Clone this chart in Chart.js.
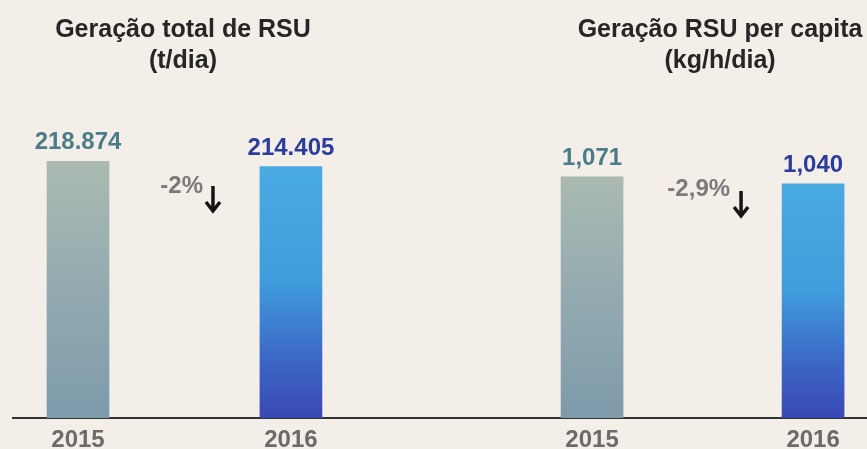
<!DOCTYPE html>
<html lang="pt">
<head>
<meta charset="utf-8">
<script src="https://cdn.jsdelivr.net/npm/chart.js@4.4.1/dist/chart.umd.min.js"></script>
<style>
  html, body { margin: 0; padding: 0; background: #f4eee8; }
  #quadro { position: relative; width: 867px; height: 449px; overflow: hidden; background: #f4eee8; }
  #quadro canvas { position: absolute; top: 0; }
</style>
</head>
<body>
<div id="quadro">
  <canvas id="grafica-total" width="428" height="449" style="left:12px"></canvas>
  <canvas id="grafica-percapita" width="427" height="449" style="left:440px"></canvas>
</div>
<script>
(function () {

    // dados
    const anos = [2015, 2016];
    const totalRSU = [218874, 214405];          // t/dia
    const perCapitaRSU = [1.071, 1.040];        // kg/h/dia
    const rotulosTotal = ['218.874', '214.405'];
    const rotulosPerCapita = ['1,071', '1,040'];
    const variacaoTotal = '-2%';
    const variacaoPerCapita = '-2,9%';
    const tituloTotal = ['Geração total de RSU', '(t/dia)'];
    const tituloPerCapita = ['Geração RSU per capita', '(kg/h/dia)'];

    const fonte = '"Liberation Sans", Arial, Helvetica, sans-serif';
    const coresRotulo = ['#4a7d88', '#2b3c9c'];
    const coresCinza = [[0, '#aabab1'], [0.5, '#93aab0'], [1, '#7e9aab']];
    const coresAzul = [[0, '#4aaae2'], [0.45, '#409ddd'], [0.8, '#3b62c3'], [1, '#3a48b4']];

    function gradiente(c) {
        const chart = c.chart;
        const area = chart.chartArea;
        const cores = c.dataIndex === 0 ? coresCinza : coresAzul;
        if (!area || !c.parsed) return cores[0][1];
        const topo = chart.scales.y.getPixelForValue(c.parsed.y);
        const g = chart.ctx.createLinearGradient(0, topo, 0, area.bottom);
        cores.forEach(([p, cor]) => g.addColorStop(p, cor));
        return g;
    }

    // titulos, valores e variacao
    const rotulos = {
        id: 'rotulos',
        afterDatasetsDraw(chart, args, op) {
            const ctx = chart.ctx;
            const x = chart.scales.x;
            const meio = x.getPixelForValue(2015.5);
            ctx.save();

            ctx.fillStyle = '#262626';
            ctx.textAlign = 'center';
            ctx.textBaseline = 'alphabetic';
            ctx.font = 'bold 25px ' + fonte;
            ctx.fillText(op.titulo[0], meio + op.deslocTitulo, 37);
            ctx.fillText(op.titulo[1], meio + op.deslocTitulo, 68);

            ctx.font = 'bold 24px ' + fonte;
            chart.getDatasetMeta(0).data.forEach((barra, i) => {
                ctx.fillStyle = coresRotulo[i];
                ctx.fillText(op.valores[i], barra.x, barra.y - 12);
            });

            ctx.font = 'bold 24px ' + fonte;
            ctx.fillStyle = '#7a7a7a';
            ctx.textAlign = 'right';
            ctx.fillText(op.variacao, meio + op.deslocTexto, op.yTexto);

            const xs = meio + op.deslocSeta;
            ctx.strokeStyle = '#141414';
            ctx.lineWidth = 3.5;
            ctx.lineCap = 'butt';
            ctx.beginPath();
            ctx.moveTo(xs, op.ySeta);
            ctx.lineTo(xs, op.ySeta + 25);
            ctx.stroke();
            ctx.beginPath();
            ctx.moveTo(xs - 7, op.ySeta + 16);
            ctx.lineTo(xs, op.ySeta + 25);
            ctx.lineTo(xs + 7, op.ySeta + 16);
            ctx.stroke();

            ctx.restore();
        }
    };

    function criarGrafica(id, valores, min, max, yMax, extra) {
        const ctx = document.getElementById(id).getContext('2d');
        return new Chart(ctx, {
            type: 'bar',
            data: {
                datasets: [{
                    data: anos.map((a, i) => ({ x: a, y: valores[i] })),
                    backgroundColor: gradiente,
                    barThickness: 62,
                    borderWidth: 0
                }]
            },
            options: {
                responsive: false,
                animation: false,
                layout: { padding: 0 },
                scales: {
                    x: {
                        type: 'linear',
                        min: min,
                        max: max,
                        offset: false,
                        grid: { display: false, drawTicks: false },
                        border: { display: true, color: '#333333', width: 2 },
                        afterBuildTicks: s => { s.ticks = anos.map(v => ({ value: v })); },
                        afterFit: s => { s.height = 31; },
                        ticks: {
                            padding: 8,
                            color: '#6b6b6b',
                            font: { family: fonte, size: 24, weight: 'bold' },
                            callback: v => String(v)
                        }
                    },
                    y: { display: false, min: 0, max: yMax }
                },
                plugins: {
                    legend: { display: false },
                    tooltip: { enabled: false },
                    rotulos: extra
                }
            },
            plugins: [rotulos]
        });
    }

    criarGrafica('grafica-total', totalRSU, 2014.690, 2016.700, 356500, {
        titulo: tituloTotal, valores: rotulosTotal, variacao: variacaoTotal,
        deslocTitulo: -1.5, deslocTexto: 18.5, deslocSeta: 28.5, yTexto: 193, ySeta: 186
    });

    criarGrafica('grafica-percapita', perCapitaRSU, 2014.312, 2016.244, 1.857, {
        titulo: tituloPerCapita, valores: rotulosPerCapita, variacao: variacaoPerCapita,
        deslocTitulo: 17.5, deslocTexto: 27.5, deslocSeta: 38.5, yTexto: 196, ySeta: 191
    });

})();
</script>
</body>
</html>
